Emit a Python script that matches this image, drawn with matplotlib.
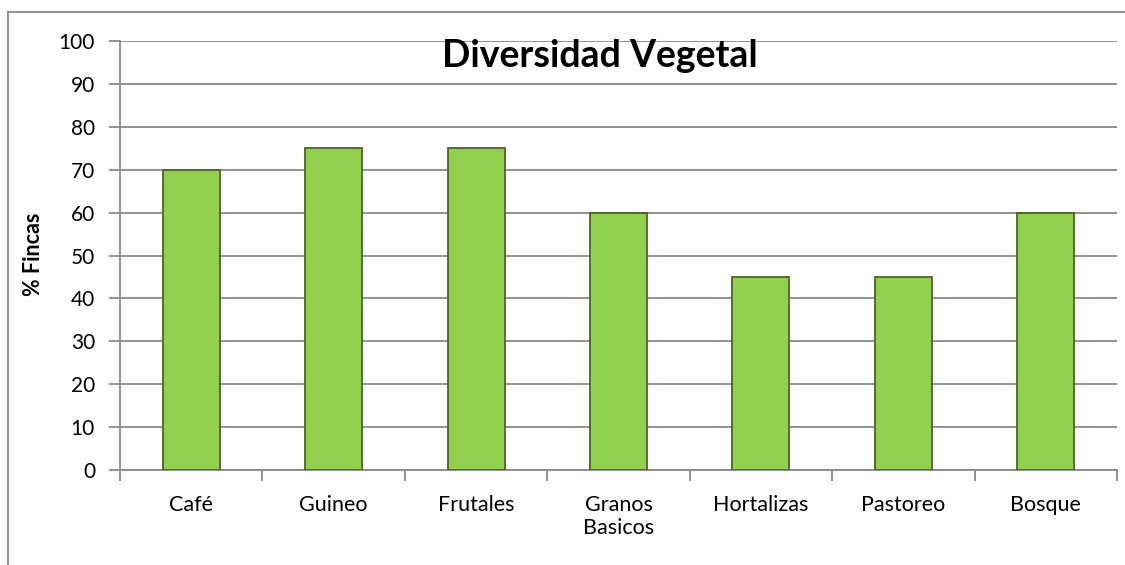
import matplotlib.pyplot as plt
from matplotlib.lines import Line2D

categorias = ["Café", "Guineo", "Frutales", "Granos\nBasicos", "Hortalizas", "Pastoreo", "Bosque"]
pct_fincas = [70, 75, 75, 60, 45, 45, 60]
yticks = list(range(0, 101, 10))

plt.rcParams['font.family'] = ['Lato', 'DejaVu Sans']
gris = '#898989'

fig = plt.figure(figsize=(11.25, 5.65), dpi=100)
ax = fig.add_axes([120 / 1125, 1 - 470 / 565, (1117 - 120) / 1125, (470 - 41) / 565])

x = list(range(len(categorias)))
ax.bar(x, pct_fincas, width=0.4, color='#92D050', edgecolor='#4F6228', linewidth=1.3, zorder=3)

ax.set_xlim(-0.5, len(categorias) - 0.5)
ax.set_ylim(0, 100)
ax.set_yticks(yticks)
ax.tick_params(axis='y', labelsize=15, length=8, width=1.3, color=gris, pad=10)
ax.yaxis.grid(True, color=gris, linewidth=1.3, zorder=0)

# ticks del eje x entre categorias
ax.set_xticks([i - 0.5 for i in range(len(categorias) + 1)])
ax.set_xticklabels([])
ax.tick_params(axis='x', length=8, width=1.3, color=gris)
ax.set_xticks(x, minor=True)
ax.set_xticklabels(categorias, minor=True, fontsize=15.5, linespacing=1.2)
ax.tick_params(axis='x', which='minor', length=0, pad=18)

for s in ['top', 'right']:
    ax.spines[s].set_visible(False)
for s in ['left', 'bottom']:
    ax.spines[s].set_color(gris)
    ax.spines[s].set_linewidth(1.3)

fig.text(33.5 / 1125, 1 - 254 / 565, "% Fincas", rotation=90, ha='center', va='center',
         fontsize=15.5, fontweight='bold')
ax.text(0.481, 0.94, "Diversidad Vegetal", transform=ax.transAxes, ha='center', va='baseline',
        fontsize=27, fontweight='bold')

# marco del grafico
fig.add_artist(Line2D([8 / 1125, 8 / 1125], [0, 1 - 12 / 565], color=gris, linewidth=1.3))
fig.add_artist(Line2D([8 / 1125, 1], [1 - 12 / 565, 1 - 12 / 565], color=gris, linewidth=1.3))

fig.savefig("out.png", dpi=100)
